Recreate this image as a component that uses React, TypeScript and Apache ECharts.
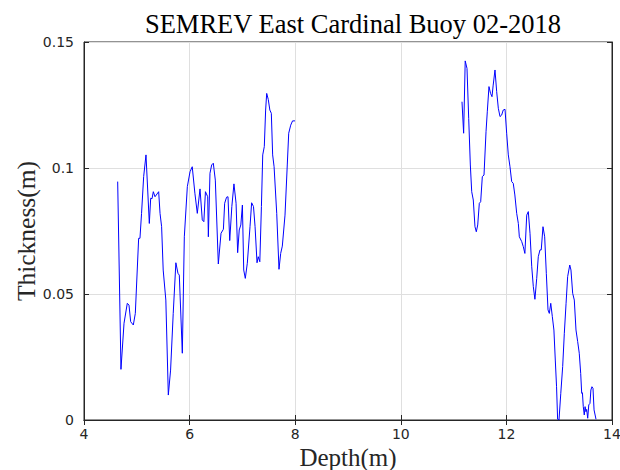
import React, { useEffect, useRef } from "react";
import * as echarts from "echarts";

const titleText = "SEMREV East Cardinal Buoy 02-2018";
const xName = "Depth(m)";
const yName = "Thickness(m)";
const xTicks = [4, 6, 8, 10, 12, 14];
const yTicks = [0, 0.05, 0.1, 0.15];

const depthA = [4.638,4.70,4.758,4.82,4.852,4.884,4.934,4.972,5.035,5.06,5.09,5.13,5.174,5.237,5.263,5.288,5.313,5.345,5.414,5.44,5.47,5.50,5.55,5.597,5.64,5.69,5.74,5.78,5.805,5.862,5.90,5.957,6.008,6.05,6.10,6.146,6.197,6.24,6.27,6.30,6.343,6.355,6.386,6.418,6.449,6.487,6.544,6.595,6.64,6.664,6.70,6.727,6.76,6.80,6.84,6.88,6.91,6.94,6.97,7.0,7.025,7.055,7.093,7.144,7.175,7.21,7.24,7.277,7.30,7.33,7.36,7.385,7.415,7.44,7.46,7.49,7.52,7.548,7.573,7.60,7.65,7.693,7.725,7.756,7.807,7.85,7.877,7.915,7.95,7.996];
const thickA = [0.0946,0.0201,0.0384,0.0463,0.0456,0.039,0.0377,0.0423,0.0721,0.0721,0.082,0.0966,0.1052,0.078,0.088,0.0878,0.0906,0.0886,0.0906,0.082,0.0767,0.0595,0.0476,0.0099,0.0198,0.0423,0.0624,0.0582,0.0575,0.0265,0.0727,0.0926,0.0985,0.1005,0.09,0.082,0.0917,0.0794,0.0787,0.0906,0.0886,0.0727,0.0979,0.1012,0.1019,0.0952,0.0619,0.0741,0.0757,0.086,0.0884,0.0886,0.0712,0.0847,0.0937,0.086,0.0664,0.0754,0.0774,0.0853,0.0595,0.0562,0.0622,0.0767,0.0862,0.0847,0.0767,0.0624,0.0648,0.0628,0.0847,0.1052,0.1085,0.123,0.1296,0.1272,0.123,0.1217,0.1052,0.1005,0.082,0.0598,0.0661,0.069,0.0813,0.1012,0.1138,0.117,0.1187,0.1187];

const depthB = [11.159,11.19,11.22,11.254,11.286,11.317,11.343,11.373,11.405,11.43,11.457,11.487,11.513,11.544,11.576,11.614,11.638,11.67,11.70,11.727,11.75,11.784,11.816,11.847,11.879,11.91,11.94,11.974,12.005,12.036,12.068,12.10,12.13,12.16,12.195,12.226,12.245,12.29,12.32,12.35,12.385,12.415,12.447,12.48,12.51,12.54,12.574,12.604,12.636,12.66,12.693,12.725,12.756,12.788,12.813,12.84,12.87,12.90,12.926,12.95,12.97,12.996,13.03,13.066,13.097,13.13,13.16,13.2,13.223,13.255,13.286,13.318,13.35,13.38,13.407,13.426,13.44,13.456,13.475,13.49,13.507,13.52,13.54,13.56,13.583,13.60,13.62,13.64,13.66,13.697];
const thickB = [0.1263,0.1138,0.1425,0.1395,0.1197,0.1012,0.0906,0.0873,0.0767,0.0747,0.0774,0.086,0.0866,0.0966,0.0972,0.1144,0.1223,0.1323,0.1296,0.1283,0.1329,0.1389,0.1303,0.1237,0.1204,0.121,0.123,0.1233,0.1138,0.1052,0.1005,0.0946,0.0939,0.0893,0.082,0.078,0.0727,0.0708,0.0688,0.0661,0.0813,0.0827,0.0741,0.0608,0.0529,0.0479,0.0562,0.0648,0.0675,0.0675,0.0767,0.0727,0.0582,0.0437,0.0423,0.0463,0.041,0.0357,0.0238,0.0132,0.0003,0,0.0106,0.0212,0.0344,0.0463,0.0569,0.0615,0.0595,0.0503,0.0476,0.0357,0.0311,0.0265,0.0185,0.0106,0.0108,0.0053,0.002,0.0053,0.0033,0.0042,0.0007,0.006,0.0066,0.0119,0.0132,0.0126,0.004,0.0003];

function pairs(xs: number[], ys: number[]) {
  const n = Math.min(xs.length, ys.length);
  const out: number[][] = [];
  for (let i = 0; i < n; i++) out.push([xs[i], ys[i]]);
  return out;
}

const labelColor = "#262626";
const sans = "DejaVu Sans";
const serif = "Liberation Serif";

export default function App() {
  const ref = useRef<HTMLDivElement>(null);
  useEffect(() => {
    if (!ref.current) return;
    const chart = echarts.init(ref.current, undefined, { renderer: "svg" });
    const xMin = xTicks[0], xMax = xTicks[xTicks.length - 1];
    const yMin = yTicks[0], yMax = yTicks[yTicks.length - 1];
    const xInt = xTicks[1] - xTicks[0];
    const yInt = yTicks[1] - yTicks[0];
    const baseX = { type: "value" as const, min: xMin, max: xMax, interval: xInt };
    const baseY = { type: "value" as const, min: yMin, max: yMax, interval: yInt };
    const line = (data: number[][]) => ({
      type: "line" as const,
      data,
      showSymbol: false,
      symbol: "none",
      lineStyle: { color: "#0000ff", width: 1 },
      xAxisIndex: 0, yAxisIndex: 0,
    });
    chart.setOption({
      animation: false,
      title: {
        text: titleText,
        left: 348,
        top: 5,
        textAlign: "center",
        textStyle: { fontFamily: serif, fontSize: 26.5, fontWeight: "normal", color: "#000" },
      },
      grid: {
        left: 84, right: 8, top: 42, bottom: 50,
        outerBoundsMode: "none",
        containLabel: false,
        show: true, borderColor: labelColor, borderWidth: 1, backgroundColor: "#fff",
      },
      xAxis: [
        {
          ...baseX,
          position: "bottom",
          name: xName,
          nameLocation: "middle",
          nameGap: 25,
          nameMoveOverlap: false,
          nameTextStyle: { fontFamily: serif, fontSize: 25, color: labelColor },
          axisLine: { show: true, lineStyle: { color: labelColor, width: 1 } },
          axisTick: { show: true, inside: true, length: 5, lineStyle: { color: labelColor } },
          axisLabel: { margin: 7, color: labelColor, fontFamily: sans, fontSize: 14, formatter: (v: number) => String(v) },
          splitLine: { show: true, lineStyle: { color: "#dfdfdf", width: 1 } },
        },
        {
          ...baseX,
          position: "top",
          axisLine: { show: true, lineStyle: { color: labelColor, width: 1 } },
          axisTick: { show: true, inside: true, length: 5, lineStyle: { color: labelColor } },
          axisLabel: { show: false },
          splitLine: { show: false },
        },
      ],
      yAxis: [
        {
          ...baseY,
          position: "left",
          name: yName,
          nameLocation: "middle",
          nameGap: 45,
          nameMoveOverlap: false,
          nameTextStyle: { fontFamily: serif, fontSize: 25.5, color: labelColor },
          axisLine: { show: true, lineStyle: { color: labelColor, width: 1 } },
          axisTick: { show: true, inside: true, length: 5, lineStyle: { color: labelColor } },
          axisLabel: { margin: 10, color: labelColor, fontFamily: sans, fontSize: 14, formatter: (v: number) => String(Math.round(v * 100) / 100) },
          splitLine: { show: true, lineStyle: { color: "#dfdfdf", width: 1 } },
        },
        {
          ...baseY,
          position: "right",
          axisLine: { show: true, lineStyle: { color: labelColor, width: 1 } },
          axisTick: { show: true, inside: true, length: 5, lineStyle: { color: labelColor } },
          axisLabel: { show: false },
          splitLine: { show: false },
        },
      ],
      series: [line(pairs(depthA, thickA)), line(pairs(depthB, thickB))],
    });
    return () => chart.dispose();
  }, []);
  return (
    <div
      ref={ref}
      style={{ position: "fixed", left: 0, top: 0, width: 620, height: 470, background: "#fff" }}
    />
  );
}
